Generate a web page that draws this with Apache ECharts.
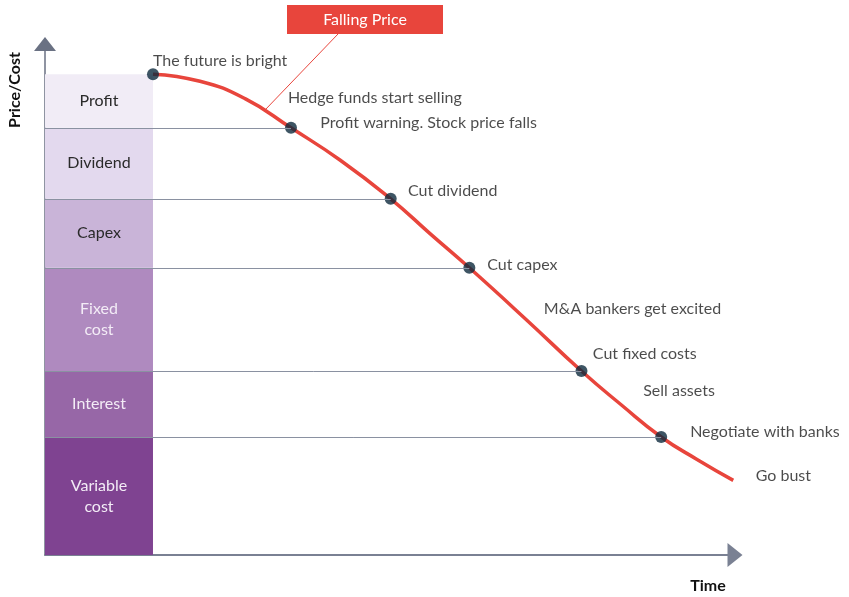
<!DOCTYPE html>
<html>
<head>
<meta charset="utf-8">
<title>Falling Price</title>
<script src="https://cdn.jsdelivr.net/npm/echarts@6/dist/echarts.min.js"></script>
<style>
  html, body { margin: 0; padding: 0; background: #fff; }
  #chart { width: 849px; height: 597px; }
</style>
</head>
<body>
<div id="chart"></div>
<script>
// cost stack, bottom to top
const costNames = ['Variable\ncost', 'Interest', 'Fixed\ncost', 'Capex', 'Dividend', 'Profit']
const costValues = [23.1, 12.9, 20.2, 13.5, 13.9, 10.5]
const costEndTime = 15.65

// price curve
const priceTime = [15.65, 22.46, 28.99, 35.65, 42.75, 50.1, 55.8, 61.5, 69.8, 77.75, 83.5, 89.3, 94.5, 99.75]
const priceValue = [94.1, 92.7, 89.3, 83.6, 77.3, 69.7, 62.9, 56.2, 46.0, 36.0, 29.4, 23.1, 18.7, 14.6]

// dots where the price meets a cost level
const eventTime = [15.65, 35.65, 50.1, 61.5, 77.75, 89.3]
const eventValue = [94.1, 83.6, 69.7, 56.2, 36.0, 23.1]

// notes along the curve
const noteText = ['The future is bright', 'Hedge funds start selling', 'Profit warning. Stock price falls',
  'Cut dividend', 'Cut capex', 'M&A bankers get excited', 'Cut fixed costs', 'Sell assets',
  'Negotiate with banks', 'Go bust']
const noteTime = [15.65, 35.2, 39.9, 52.6, 64.1, 72.3, 79.4, 86.7, 93.5, 103.0]
const noteValue = [96.7, 89.4, 84.5, 71.2, 56.75, 48.1, 39.3, 32.1, 24.1, 15.5]

const costColors = ['#7f4391', '#9767a7', '#af8abf', '#c9b4d8', '#e3d9ee', '#f1ecf6']
const costTextColors = ['#f3ecf6', '#f3ecf6', '#f3ecf6', '#2a2a2a', '#2a2a2a', '#2a2a2a']
const FONT = 'Lato, "Open Sans", sans-serif'

let base = 0
const costRows = costValues.map(v => {
  const row = [0, costEndTime, base, base + v]
  base += v
  return row
})

const chart = echarts.init(document.getElementById('chart'))

chart.setOption({
  animation: false,
  grid: { left: 45, right: 114, top: 44, bottom: 42 },
  xAxis: {
    type: 'value', min: 0, max: 100,
    axisLabel: { show: false }, axisTick: { show: false }, splitLine: { show: false },
    axisLine: { lineStyle: { color: '#7a8193', width: 2 }, symbol: ['none', 'triangle'], symbolSize: [24, 15] }
  },
  yAxis: {
    type: 'value', min: 0, max: 100,
    axisLabel: { show: false }, axisTick: { show: false }, splitLine: { show: false },
    axisLine: { lineStyle: { color: '#6a7183', width: 1.5 }, symbol: ['none', 'triangle'], symbolSize: [22, 14] }
  },
  graphic: [
    { type: 'line', shape: { x1: 338, y1: 34, x2: 265, y2: 110 }, style: { stroke: '#e8453c', lineWidth: 1 }, z: 10 },
    { type: 'rect', shape: { x: 287, y: 5, width: 156, height: 29 }, style: { fill: '#e8453c' }, z: 10 },
    {
      type: 'text', x: 365, y: 20, z: 11,
      style: { text: 'Falling Price', fill: '#fff', font: '16px ' + FONT, align: 'center', verticalAlign: 'middle' }
    },
    {
      type: 'text', x: 15, y: 90, rotation: Math.PI / 2,
      style: { text: 'Price/Cost', fill: '#111', font: 'bold 16px ' + FONT, align: 'center', verticalAlign: 'middle' }
    },
    {
      type: 'text', x: 708, y: 586,
      style: { text: 'Time', fill: '#111', font: 'bold 16px ' + FONT, align: 'center', verticalAlign: 'middle' }
    }
  ],
  series: [
    {
      type: 'custom',
      z: 1,
      data: costRows,
      encode: { x: [0, 1], y: [2, 3] },
      renderItem: (params, api) => {
        const i = params.dataIndex
        const p0 = api.coord([api.value(0), api.value(3)])
        const p1 = api.coord([api.value(1), api.value(2)])
        return {
          type: 'rect',
          shape: { x: p0[0], y: p0[1], width: p1[0] - p0[0], height: p1[1] - p0[1] },
          style: { fill: costColors[i] },
          textContent: {
            style: { text: costNames[i], fill: costTextColors[i], font: '16px ' + FONT, align: 'center', lineHeight: 21 }
          },
          textConfig: { position: 'inside' }
        }
      }
    },
    {
      type: 'line',
      z: 3,
      data: priceTime.map((t, i) => [t, priceValue[i]]),
      smooth: 0.5,
      showSymbol: false,
      lineStyle: { color: '#e8453c', width: 3.5 }
    },
    {
      type: 'scatter',
      z: 4,
      data: eventTime.map((t, i) => [t, eventValue[i]]),
      symbolSize: 12,
      itemStyle: { color: '#0e2a3d' },
      markLine: {
        silent: true,
        symbol: 'none',
        label: { show: false },
        lineStyle: { color: '#8a91a1', width: 1, type: 'solid' },
        data: eventTime.slice(1).map((t, i) => [
          { coord: [0, eventValue[i + 1]] },
          { coord: [t, eventValue[i + 1]] }
        ])
      }
    },
    {
      type: 'scatter',
      z: 5,
      clip: false,
      silent: true,
      symbolSize: 0,
      data: noteText.map((txt, i) => ({ name: txt, value: [noteTime[i], noteValue[i]] })),
      label: {
        show: true, position: 'right', distance: 0,
        formatter: p => p.name,
        color: '#1e1e1e', fontSize: 16, fontFamily: FONT
      }
    }
  ]
})
</script>
</body>
</html>
